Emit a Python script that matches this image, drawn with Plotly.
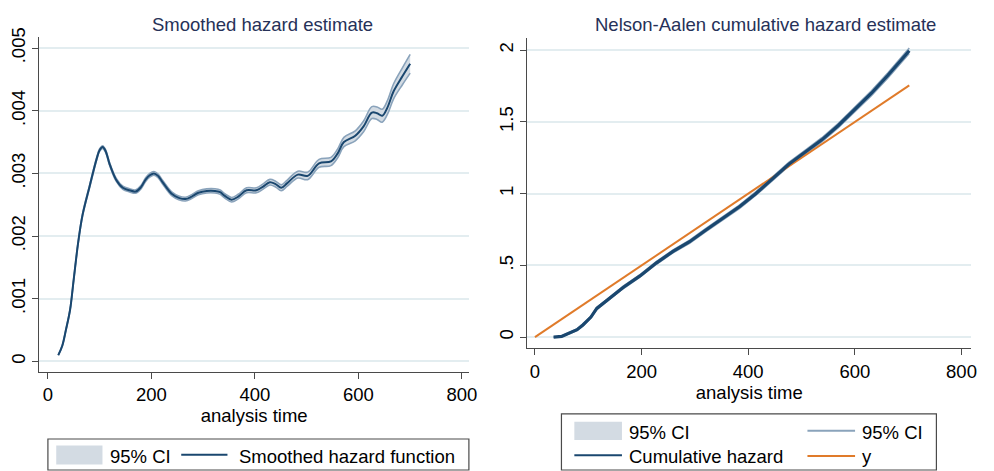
import plotly.graph_objects as go

W, H = 994, 471

# ---------------- Smoothed hazard (left) ----------------
haz_t = [20.3, 28, 35, 43, 50, 58.6, 67, 81, 94, 100, 106, 112, 119, 132, 145, 158,
         170, 180, 189, 197, 205, 213, 221, 240, 253, 266, 278, 291, 307, 323, 333,
         342, 355, 368, 384, 403, 416, 429, 440, 451, 462, 483, 502, 524, 547, 560,
         572, 594, 610, 626, 636, 646, 656, 668, 685, 700]
haz_h = [0.0001, 0.00025, 0.0005, 0.00082, 0.0013, 0.00189, 0.00233, 0.0028, 0.00322,
         0.00337, 0.00342, 0.00335, 0.00316, 0.0029, 0.00277, 0.00273, 0.00271, 0.00278,
         0.0029, 0.00297, 0.003, 0.00296, 0.00287, 0.00267, 0.00261, 0.00259, 0.00263,
         0.00269, 0.00272, 0.00272, 0.0027, 0.00264, 0.00258, 0.00263, 0.00273, 0.00273,
         0.00279, 0.00286, 0.00283, 0.00277, 0.00284, 0.00298, 0.00296, 0.00316, 0.00319,
         0.00332, 0.0035, 0.0036, 0.00375, 0.00397, 0.00396, 0.00392, 0.00405, 0.00431,
         0.00455, 0.00475]
haz_hw = [0.000005, 0.000008, 0.00001, 0.000012, 0.000015, 0.000017, 0.000018, 0.00002,
          0.00002, 0.00002, 0.000022, 0.000022, 0.000022, 0.000024, 0.000025, 0.000026,
          0.000027, 0.000028, 0.000029, 0.00003, 0.00003, 0.00003, 0.00003, 0.00003,
          0.00003, 0.00003, 0.000031, 0.000032, 0.000033, 0.000034, 0.000035, 0.000035,
          0.000036, 0.000037, 0.00004, 0.00004, 0.000042, 0.000045, 0.000046, 0.000047,
          0.000049, 0.000055, 0.00006, 0.000063, 0.000066, 0.00007, 0.000074, 0.00008,
          0.000087, 0.000095, 0.0001, 0.000103, 0.00011, 0.00012, 0.000135, 0.00015]

haz_yticks = [0, 0.001, 0.002, 0.003, 0.004, 0.005]
haz_yticktext = ["0", ".001", ".002", ".003", ".004", ".005"]

# ---------------- Nelson-Aalen (right) ----------------
na_t = [35, 45, 50, 54, 65, 79, 90, 97.5, 105, 116, 135, 166, 197, 228, 259, 290, 320,
        352, 384, 414, 445, 476, 507, 538, 569, 600, 631, 662, 685, 702]
na_h = [0.0, 0.0, 0.005, 0.012, 0.03, 0.052, 0.085, 0.11, 0.14, 0.2, 0.256, 0.348, 0.427,
        0.518, 0.598, 0.665, 0.745, 0.825, 0.91, 1.0, 1.1, 1.205, 1.29, 1.375, 1.475,
        1.585, 1.70, 1.825, 1.92, 1.996]
na_hw = [0.0, 0.0, 0.003, 0.004, 0.005, 0.006, 0.006, 0.007, 0.007, 0.008, 0.008, 0.009,
         0.009, 0.01, 0.01, 0.011, 0.011, 0.012, 0.012, 0.013, 0.013, 0.014, 0.014, 0.015,
         0.015, 0.016, 0.017, 0.018, 0.019, 0.02]
ref_t = [0, 702]
ref_y = [0, 1.755]

na_yticks = [0, 0.5, 1, 1.5, 2]
na_yticktext = ["0", ".5", "1", "1.5", "2"]
xticks = [0, 200, 400, 600, 800]

NAVY = "#1a476f"
CI_LINE = "#8aa3bb"
CI_FILL = "#d3dbe3"
ORANGE = "#e07b2a"
GRID = "#e3edf0"
AXIS = "#4a4a4a"
TITLE_C = "#263158"
FONT = "Liberation Sans"
FS = 18.5

fig = go.Figure()

# left CI band
lo = [h - w for h, w in zip(haz_h, haz_hw)]
hi = [h + w for h, w in zip(haz_h, haz_hw)]
fig.add_trace(go.Scatter(x=haz_t, y=lo, mode="lines", line=dict(color=CI_LINE, width=1.6, shape="spline"),
                         xaxis="x", yaxis="y", showlegend=False, hoverinfo="skip"))
fig.add_trace(go.Scatter(x=haz_t, y=hi, mode="lines", line=dict(color=CI_LINE, width=1.6, shape="spline"),
                         fill="tonexty", fillcolor=CI_FILL, xaxis="x", yaxis="y", showlegend=False,
                         hoverinfo="skip"))
fig.add_trace(go.Scatter(x=haz_t, y=haz_h, mode="lines", line=dict(color=NAVY, width=2, shape="spline"),
                         xaxis="x", yaxis="y", showlegend=False))

# right CI band
nlo = [h - w for h, w in zip(na_h, na_hw)]
nhi = [h + w for h, w in zip(na_h, na_hw)]
fig.add_trace(go.Scatter(x=na_t, y=nlo, mode="lines", line=dict(color=CI_LINE, width=1.5),
                         xaxis="x2", yaxis="y2", showlegend=False, hoverinfo="skip"))
fig.add_trace(go.Scatter(x=na_t, y=nhi, mode="lines", line=dict(color=CI_LINE, width=1.5),
                         fill="tonexty", fillcolor=CI_FILL, xaxis="x2", yaxis="y2", showlegend=False,
                         hoverinfo="skip"))
fig.add_trace(go.Scatter(x=ref_t, y=ref_y, mode="lines", line=dict(color=ORANGE, width=2),
                         xaxis="x2", yaxis="y2", showlegend=False))
fig.add_trace(go.Scatter(x=na_t, y=na_h, mode="lines", line=dict(color=NAVY, width=3.2),
                         xaxis="x2", yaxis="y2", showlegend=False))


def px(x):
    return x / W


def py(y):
    return 1 - y / H


xaxis_common = dict(showline=True, linecolor=AXIS, linewidth=1.2, ticks="outside", ticklen=6,
                    tickcolor=AXIS, tickwidth=1.2, showgrid=False, zeroline=False,
                    tickvals=xticks, tickfont=dict(family=FONT, size=FS, color="black"),
                    title=dict(text="analysis time", font=dict(family=FONT, size=FS, color="black"),
                               standoff=4))
yaxis_common = dict(showline=True, linecolor=AXIS, linewidth=1.2, ticks="outside", ticklen=6,
                    tickcolor=AXIS, tickwidth=1.2, showgrid=True, gridcolor=GRID, gridwidth=1.6,
                    zeroline=False, tickangle=-90, tickfont=dict(family=FONT, size=FS, color="black"))

fig.update_layout(
    width=W, height=H, margin=dict(l=0, r=0, t=0, b=0),
    paper_bgcolor="white", plot_bgcolor="white",
    showlegend=False,
    xaxis=dict(domain=[px(39.5), px(473)], range=[-16.6, 814], anchor="y", **xaxis_common),
    yaxis=dict(domain=[py(370), py(28)], range=[-0.000172, 0.00517], anchor="x",
               tickvals=haz_yticks, ticktext=haz_yticktext, **yaxis_common),
    xaxis2=dict(domain=[px(531.7), px(979)], range=[-14.1, 818], anchor="y2", **xaxis_common),
    yaxis2=dict(domain=[py(345.7), py(28.3)], range=[-0.078, 2.087], anchor="x2",
                tickvals=na_yticks, ticktext=na_yticktext, **yaxis_common),
)

ann = []
ann.append(dict(text="Smoothed hazard estimate", x=px(265), y=py(15), xref="paper", yref="paper",
                showarrow=False, xanchor="center", yanchor="middle",
                font=dict(family=FONT, size=FS, color=TITLE_C)))
ann.append(dict(text="Nelson-Aalen cumulative hazard estimate", x=px(772), y=py(15), xref="paper",
                yref="paper", showarrow=False, xanchor="center", yanchor="middle",
                font=dict(family=FONT, size=FS, color=TITLE_C)))

shapes = []


def box(x0, y0, x1, y1, line=None, fill=None):
    shapes.append(dict(type="rect", xref="paper", yref="paper", x0=px(x0), x1=px(x1),
                       y0=py(y1), y1=py(y0),
                       line=line if line else dict(width=0),
                       fillcolor=fill if fill else "rgba(0,0,0,0)", layer="above"))


def seg(x0, x1, y, color, width):
    shapes.append(dict(type="line", xref="paper", yref="paper", x0=px(x0), x1=px(x1),
                       y0=py(y), y1=py(y), line=dict(color=color, width=width), layer="above"))


def label(text, x, y):
    ann.append(dict(text=text, x=px(x), y=py(y), xref="paper", yref="paper", showarrow=False,
                    xanchor="left", yanchor="middle", font=dict(family=FONT, size=FS, color="black")))


# left legend
box(48.3, 438.3, 472.7, 470, line=dict(color=AXIS, width=1.2))
box(56.7, 445, 103.3, 464.3, fill=CI_FILL)
label("95% CI", 108.5, 456.5)
seg(182.7, 229.3, 454.5, NAVY, 2)
label("Smoothed hazard function", 238.5, 456.5)

# right legend
box(566, 412.7, 944, 470, line=dict(color=AXIS, width=1.2))
box(579, 420.7, 627, 439.3, fill=CI_FILL)
label("95% CI", 632.5, 431.5)
seg(814, 862, 430, CI_LINE, 2)
label("95% CI", 866.5, 431.5)
seg(579, 627, 455, NAVY, 2)
label("Cumulative hazard", 632.5, 456.5)
seg(814, 862, 455.7, ORANGE, 2)
label("y", 866.5, 456.5)

fig.update_layout(annotations=ann, shapes=shapes)
fig.write_html("out.html")
